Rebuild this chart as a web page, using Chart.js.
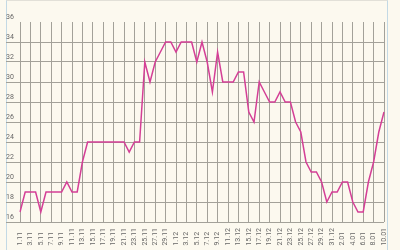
<!DOCTYPE html>
<html>
<head>
<meta charset="utf-8">
<script src="https://cdn.jsdelivr.net/npm/chart.js@4/dist/chart.umd.min.js"></script>
<style>
  html, body { margin: 0; padding: 0; background: #fcf9ef; }
  #wrap { position: relative; width: 400px; height: 250px; }
  #card { position: absolute; left: 6px; top: 0; width: 382px; height: 250px;
          border-left: 1px solid #c3d9e5; border-right: 1px solid #c3d9e5;
          border-top: 1px solid #e2e0d8; box-sizing: border-box; }
  canvas { position: absolute; left: 0; top: 0; }
</style>
</head>
<body>
<div id="wrap">
  <div id="card"></div>
  <canvas id="c" width="400" height="250"></canvas>
</div>
<script>
const dates = [
  "1.11","2.11","3.11","4.11","5.11","6.11","7.11","8.11","9.11","10.11",
  "11.11","12.11","13.11","14.11","15.11","16.11","17.11","18.11","19.11","20.11",
  "21.11","22.11","23.11","24.11","25.11","26.11","27.11","28.11","29.11","30.11",
  "1.12","2.12","3.12","4.12","5.12","6.12","7.12","8.12","9.12","10.12",
  "11.12","12.12","13.12","14.12","15.12","16.12","17.12","18.12","19.12","20.12",
  "21.12","22.12","23.12","24.12","25.12","26.12","27.12","28.12","29.12","30.12",
  "31.12","1.01","2.01","3.01","4.01","5.01","6.01","7.01","8.01","9.01","10.01"
];
const values = [
  17,19,19,19,17,19,19,19,19,20,
  19,19,22,24,24,24,24,24,24,24,
  24,23,24,24,32,30,32,33,34,34,
  33,34,34,34,32,34,32,29,33,30,
  30,30,31,31,27,26,30,29,28,28,
  29,28,28,26,25,22,21,21,20,18,
  19,19,20,20,18,17,17,20,22,25,27
];
const yMin = 16, yMax = 36, yStep = 2;

const gridColor = '#a3a199';
const lineColor = '#d43f96';
const textColor = '#666666';
const FONT = { family: 'Roboto', size: 7 };

function gridFor(ctx) {
  if (ctx.tick && ctx.tick.value === yMax) return 'rgba(0,0,0,0)';
  return gridColor;
}

new Chart(document.getElementById('c'), {
  type: 'line',
  data: {
    labels: dates,
    datasets: [{
      data: values,
      borderColor: lineColor,
      borderWidth: 1.5,
      pointRadius: 0,
      tension: 0,
      fill: false
    }]
  },
  options: {
    responsive: false,
    animation: false,
    layout: { padding: { left: 6, right: 16, top: 22, bottom: 0 } },
    plugins: { legend: { display: false }, tooltip: { enabled: false } },
    scales: {
      x: {
        grid: { color: gridColor, lineWidth: 1, drawTicks: false },
        border: { display: false },
        afterFit: (axis) => { axis.height = 28; },
        ticks: {
          autoSkip: false,
          minRotation: 90,
          maxRotation: 90,
          padding: 6,
          color: textColor,
          font: FONT,
          callback: function (v, i) {
            if (i % 2 !== 0) return null;
            const s = dates[i];
            return s + '\u2007'.repeat(Math.max(0, 5 - s.length));
          }
        }
      },
      y: {
        min: yMin,
        max: yMax,
        grid: { color: gridFor, tickColor: gridFor, lineWidth: 1, drawTicks: true, tickLength: 14 },
        border: { display: false },
        afterFit: (axis) => { axis.width = 14; },
        ticks: {
          stepSize: yStep,
          crossAlign: 'far',
          labelOffset: -5,
          padding: 0,
          color: textColor,
          font: FONT
        }
      }
    }
  }
});
</script>
</body>
</html>
